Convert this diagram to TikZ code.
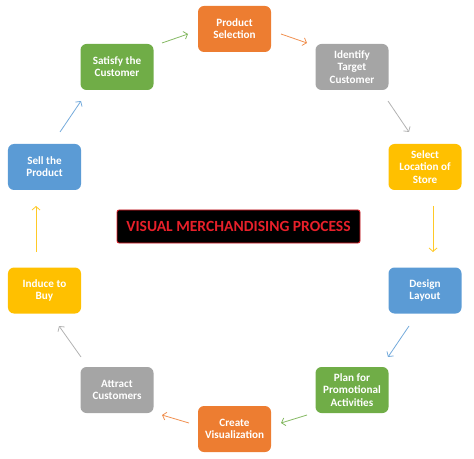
\documentclass[tikz,border=0pt]{standalone}
\usepackage{fontspec}
\setmainfont{Carlito}
\usepackage{xcolor}
\usetikzlibrary{arrows.meta}
\definecolor{vmorange}{HTML}{ED7D31}
\definecolor{vmgray}{HTML}{A5A5A5}
\definecolor{vmyellow}{HTML}{FFC000}
\definecolor{vmblue}{HTML}{5B9BD5}
\definecolor{vmgreen}{HTML}{70AD47}
\definecolor{vmred}{HTML}{E8202A}

\begin{document}
\begin{tikzpicture}[x=1bp,y=-1bp,
  stage/.style={minimum width=73bp,minimum height=46bp,inner sep=1bp,rounded corners=6bp,
    fill=#1,text=white,align=center,font=\bfseries\fontsize{11.2}{12.2}\selectfont},
  flow/.style={-{Straight Barb[length=3.5bp,width=8bp]},draw=#1!85,line width=0.8bp}]
\useasboundingbox (0,0) rectangle (474,459);
% the ten steps round the circle
\draw (234.5,29) node[stage=vmorange](prod) {Product\\Selection};
\draw (352,67) node[stage=vmgray](ident) {Identify\\Target\\Customer};
\draw (425,167) node[stage=vmyellow](loc) {Select\\Location of\\Store};
\draw (425,290.5) node[stage=vmblue](layout) {Design\\Layout};
\draw (352,390) node[stage=vmgreen](promo) {Plan for\\Promotional\\Activities};
\draw (234.5,429) node[stage=vmorange](visual) {Create\\Visualization};
\draw (117,390) node[stage=vmgray](attract) {Attract\\Customers};
\draw (44.5,290.5) node[stage=vmyellow](induce) {Induce to\\Buy};
\draw (44.5,167) node[stage=vmblue](sell) {Sell the\\Product};
\draw (117,67) node[stage=vmgreen](satisfy) {Satisfy the\\Customer};
% title in the middle
\draw (238.5,226.5) node[minimum width=243bp,minimum height=33bp,rounded corners=2bp,
  fill=black,draw=vmred,line width=0.8bp,text=vmred,font=\bfseries\fontsize{15.6}{17}\selectfont](title) {VISUAL MERCHANDISING PROCESS};
% arrow ends
\coordinate (p1) at (162,43);  \coordinate (q1) at (188,34);
\coordinate (p2) at (281,34);  \coordinate (q2) at (307,43);
\coordinate (p3) at (388,101); \coordinate (q3) at (409,132);
\coordinate (p4) at (433,206); \coordinate (q4) at (433,252);
\coordinate (p5) at (409,326); \coordinate (q5) at (388,357);
\coordinate (p6) at (307,415); \coordinate (q6) at (281,423);
\coordinate (p7) at (189,423); \coordinate (q7) at (162,415);
\coordinate (p8) at (81,357);  \coordinate (q8) at (59,326);
\coordinate (p9) at (36,252);  \coordinate (q9) at (36,206);
\coordinate (p10) at (60,132); \coordinate (q10) at (81,101);
\draw[flow=vmgreen] (p1) -- (q1);
\draw[flow=vmorange] (p2) -- (q2);
\draw[flow=vmgray] (p3) -- (q3);
\draw[flow=vmyellow] (p4) -- (q4);
\draw[flow=vmblue] (p5) -- (q5);
\draw[flow=vmgreen] (p6) -- (q6);
\draw[flow=vmorange] (p7) -- (q7);
\draw[flow=vmgray] (p8) -- (q8);
\draw[flow=vmyellow] (p9) -- (q9);
\draw[flow=vmblue] (p10) -- (q10);
\end{tikzpicture}
\end{document}
